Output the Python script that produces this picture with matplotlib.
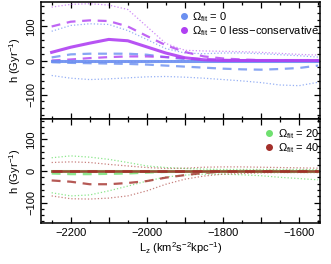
import numpy as np
import matplotlib
matplotlib.use("Agg")
import matplotlib.pyplot as plt
from matplotlib.ticker import MultipleLocator, FuncFormatter

plt.rcParams['font.family'] = ['Liberation Sans', 'DejaVu Sans']
plt.rcParams['mathtext.fontset'] = 'custom'
plt.rcParams['mathtext.rm'] = 'Liberation Sans'
plt.rcParams['mathtext.it'] = 'Liberation Sans:italic'
plt.rcParams['axes.unicode_minus'] = True

Lz = [-2250, -2200, -2150, -2100, -2050, -2000, -1950, -1900,
      -1850, -1800, -1750, -1700, -1650, -1600, -1550]

# Top panel: Omega_fit = 0
b_mid = [0]*15
b_hi  = [9, 18, 20, 20, 20, 17, 10, 4, 1, 0, 0, 0, 0, 0, 0]
b_lo  = [-5, -7, -8, -9, -10, -12, -15, -18, -21, -24, -26, -27, -25, -22, -15]
b_dhi = [86, 103, 108, 106, 88, 62, 35, 22, 20, 22, 22, 20, 17, 14, 10]
b_dlo = [-44, -52, -56, -54, -51, -48, -47, -49, -52, -56, -60, -65, -72, -74, -64]

# Top panel: Omega_fit = 0 less-conservative
p_mid = [24, 39, 51, 62, 58, 40, 22, 8, 2, 0, 0, 0, 0, 0, 0]
p_hi  = [100, 114, 118, 116, 100, 72, 45, 25, 12, 6, 3, 1, 0, 0, 0]
p_lo  = [0, 3, 7, 10, 12, 12, 10, 7, 4, 2, 1, 0, 0, 0, 0]
p_dhi = [157, 165, 167, 163, 150, 100, 50, 30, 28, 27, 26, 24, 21, 18, 16]
p_dlo = [-2, -3, -4, -4, -4, -3, -2, -1, 0, 0, 0, 0, 0, 0, 0]

# Bottom panel: Omega_fit = 20
g_mid = [0]*15
g_lo  = [-8, -10, -10, -9, -8, -5, -3, -1, 0, 0, -1, -2, -3, -3, -3]
g_dhi = [42, 48, 44, 37, 27, 16, 11, 8, 6, 5, 5, 5, 5, 5, 4]
g_dlo = [-69, -79, -76, -63, -48, -32, -19, -13, -10, -10, -12, -15, -20, -24, -28]

# Bottom panel: Omega_fit = 40
r_mid = [0]*15
r_hi  = [0]*15
r_lo  = [-30, -34, -42, -42, -38, -32, -21, -13, -6, -2, 0, 0, 0, 0, 0]
r_dhi = [27, 29, 27, 21, 16, 11, 8, 9, 12, 13, 13, 12, 11, 10, 9]
r_dlo = [-79, -88, -89, -86, -79, -63, -42, -26, -16, -10, -8, -6, -5, -5, -5]

blue = '#6a8ff0'
purple = '#b040f2'
green = '#6fe06f'
red = '#a32f2a'

FS = 8

fig = plt.figure(figsize=(3.31, 2.64), dpi=100)
ax1 = fig.add_axes([41/331, 1-119/264, 279/331, 117/264])
ax2 = fig.add_axes([41/331, 1-223/264, 279/331, 104/264])

def style(ax, ylim):
    ax.set_xlim(-2278, -1545)
    ax.set_ylim(*ylim)
    ax.xaxis.set_major_locator(MultipleLocator(100))
    ax.xaxis.set_minor_locator(MultipleLocator(50))
    ax.yaxis.set_major_locator(MultipleLocator(100))
    ax.yaxis.set_minor_locator(MultipleLocator(20))
    ax.tick_params(which='both', direction='in', top=True, right=True, labelsize=FS, width=0.9)
    ax.tick_params(which='major', length=4)
    ax.tick_params(which='minor', length=2)
    for s in ax.spines.values():
        s.set_linewidth(1.1)
    ax.set_ylabel(r'h (Gyr$^{-1}$)', fontsize=FS, labelpad=2)

def xfmt(v, pos):
    if int(round(v)) % 200 == 0:
        return '\u2212%d' % abs(int(round(v))) if v < 0 else '%d' % v
    return ''

leg_kw = dict(loc='upper right', bbox_to_anchor=(1.03, 1.01), frameon=False, fontsize=FS,
              handletextpad=0.3, borderpad=0.3, labelspacing=0.05, handlelength=1.0)

# top panel
ax1.plot(Lz, b_dhi, ':', color=blue, lw=0.9, alpha=0.7)
ax1.plot(Lz, b_dlo, ':', color=blue, lw=0.9, alpha=0.7)
ax1.plot(Lz, p_dhi, ':', color=purple, lw=0.9, alpha=0.6)
ax1.plot(Lz, p_dlo, ':', color=purple, lw=0.9, alpha=0.6)
ax1.plot(Lz, b_hi, '--', color=blue, lw=1.6, alpha=0.8, dashes=(4, 3))
ax1.plot(Lz, b_lo, '--', color=blue, lw=1.6, alpha=0.8, dashes=(4, 3))
ax1.plot(Lz, p_hi, '--', color=purple, lw=1.6, alpha=0.8, dashes=(4, 3))
ax1.plot(Lz, p_lo, '--', color=purple, lw=1.6, alpha=0.8, dashes=(4, 3))
ax1.plot(Lz, b_mid, '-', color=blue, lw=2.2, alpha=0.9)
ax1.plot(Lz, p_mid, '-', color=purple, lw=2.2, alpha=0.9)
ax1.plot([], [], 'o', color=blue, ms=4, label=r'$\Omega_{\rm fit}$ = 0')
ax1.plot([], [], 'o', color=purple, ms=4, label=r'$\Omega_{\rm fit}$ = 0 less$-$conservative')
style(ax1, (-172, 172))
ax1.xaxis.set_major_formatter(FuncFormatter(lambda v, p: ''))
ax1.legend(**leg_kw)

# bottom panel
ax2.plot(Lz, g_dhi, ':', color=green, lw=0.9, alpha=0.8)
ax2.plot(Lz, g_dlo, ':', color=green, lw=0.9, alpha=0.8)
ax2.plot(Lz, r_dhi, ':', color=red, lw=0.9, alpha=0.6)
ax2.plot(Lz, r_dlo, ':', color=red, lw=0.9, alpha=0.6)
ax2.plot(Lz, g_lo, '--', color=green, lw=1.6, alpha=0.8, dashes=(4, 3))
ax2.plot(Lz, r_lo, '--', color=red, lw=1.6, alpha=0.8, dashes=(4, 3))
ax2.plot(Lz, g_mid, '-', color=green, lw=2.2, alpha=0.9)
ax2.plot(Lz, r_mid, '-', color=red, lw=1.8, alpha=0.85)
ax2.plot(Lz, r_hi, '--', color=red, lw=1.8, alpha=0.9, dashes=(4, 3))
ax2.plot([], [], 'o', color=green, ms=4, label=r'$\Omega_{\rm fit}$ = 20')
ax2.plot([], [], 'o', color=red, ms=4, label=r'$\Omega_{\rm fit}$ = 40')
style(ax2, (-165, 165))
ax2.xaxis.set_major_formatter(FuncFormatter(xfmt))
ax2.set_xlabel(r'L$_{\rm z}$ (km$^2$s$^{-2}$kpc$^{-1}$)', fontsize=FS, labelpad=2)
ax2.legend(**leg_kw)

for ax in (ax1, ax2):
    for lab in ax.get_yticklabels():
        lab.set_rotation(90)
        lab.set_va('center')

fig.savefig('out.png', dpi=100)
